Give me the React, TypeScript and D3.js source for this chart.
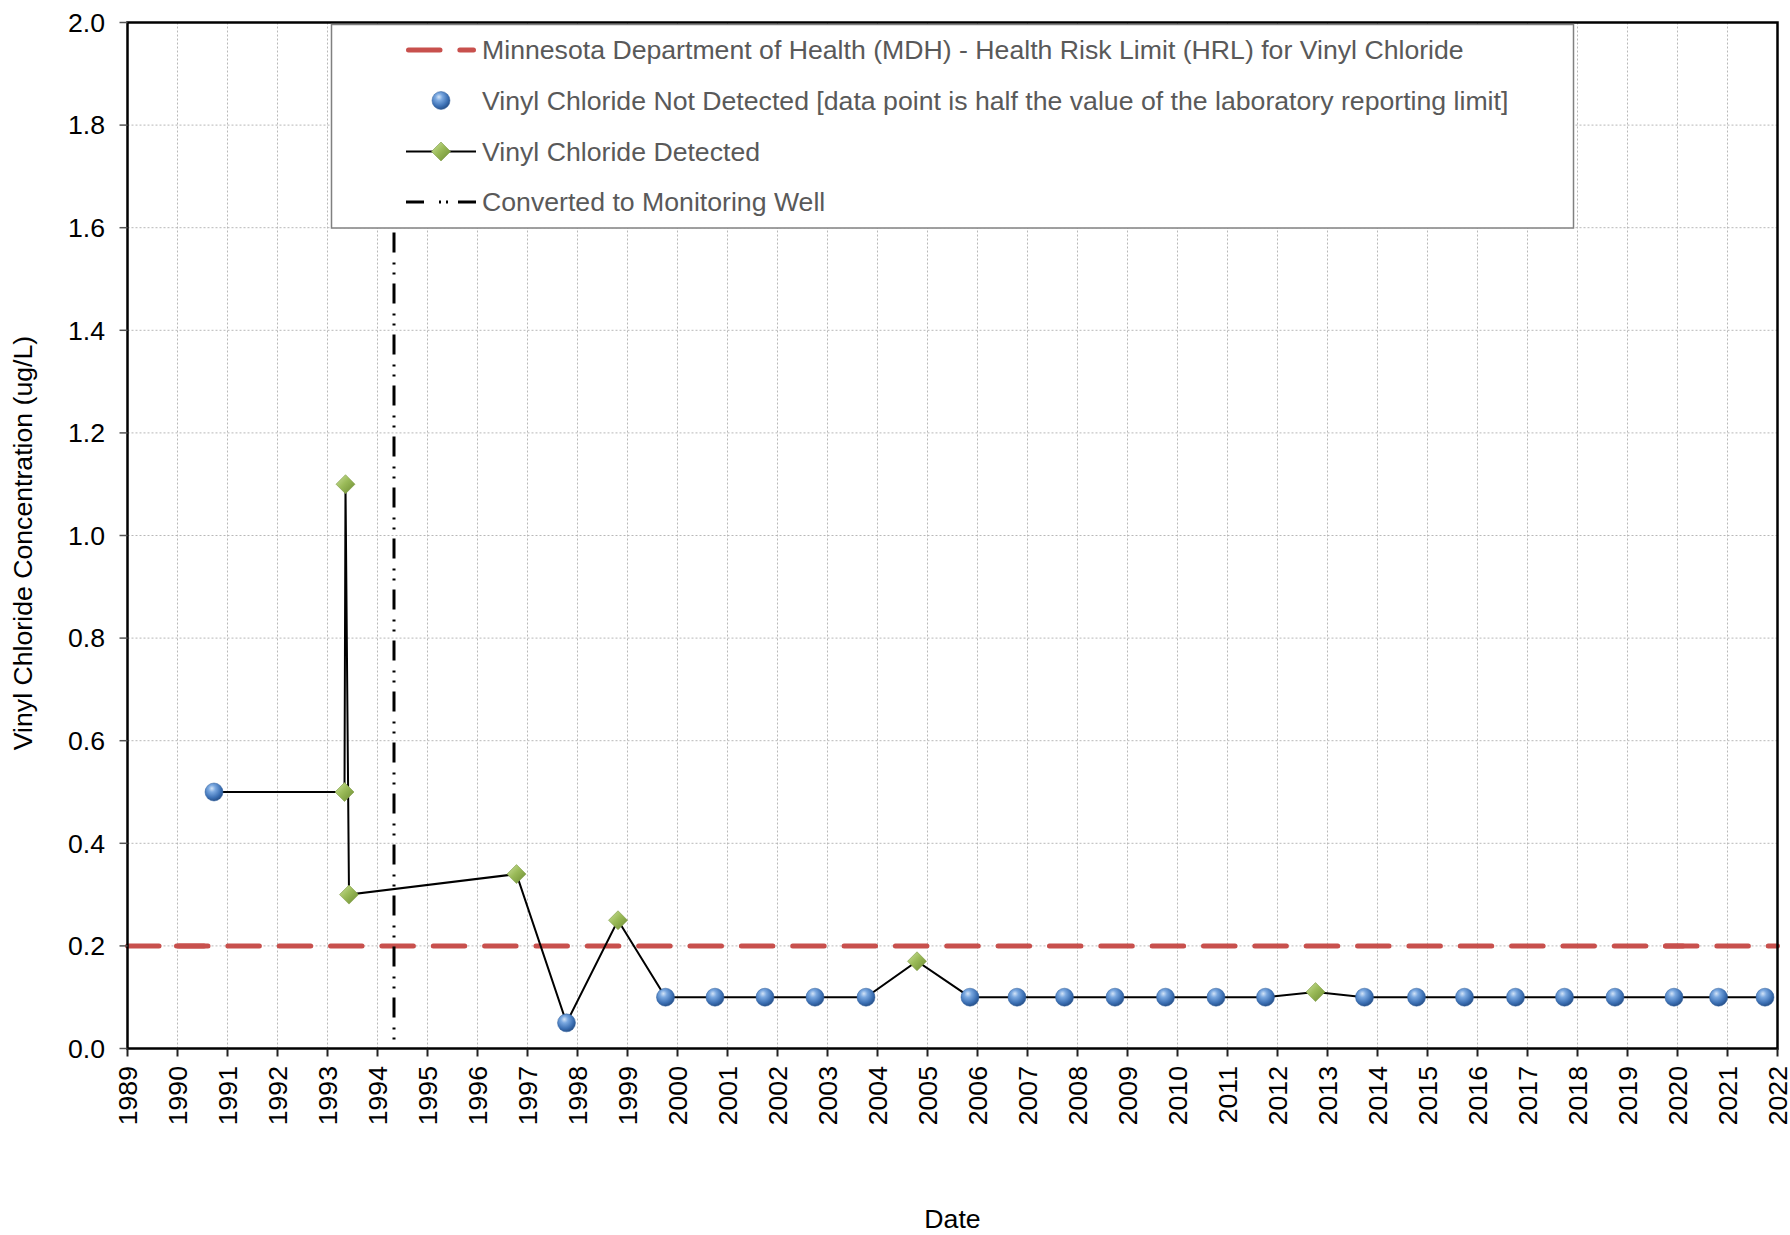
import React from "react";
import * as d3 from "d3";

// ---- Data ----
const sampleYears: number[] = [
  1990.73, 1993.34, 1993.36, 1993.43, 1996.78, 1997.78, 1998.81, 1999.76,
  2000.75, 2001.75, 2002.75, 2003.77, 2004.79, 2005.85, 2006.79, 2007.74,
  2008.75, 2009.76, 2010.77, 2011.76, 2012.76, 2013.74, 2014.78, 2015.74,
  2016.76, 2017.74, 2018.75, 2019.93, 2020.82, 2021.75,
];
const sampleValues: number[] = [
  0.5, 0.5, 1.1, 0.3, 0.34, 0.05, 0.25, 0.1,
  0.1, 0.1, 0.1, 0.1, 0.17, 0.1, 0.1, 0.1,
  0.1, 0.1, 0.1, 0.1, 0.11, 0.1, 0.1, 0.1,
  0.1, 0.1, 0.1, 0.1, 0.1, 0.1,
];
const sampleDetected: boolean[] = [
  false, true, true, true, true, false, true, false,
  false, false, false, false, true, false, false, false,
  false, false, false, false, true, false, false, false,
  false, false, false, false, false, false,
];
const hrlStartYears: number[] = [1989.0, 1989.98, 2019.76];
const hrlEndYears: number[] = [1990.53, 2020.11, 2022.0];
const hrlValues: number[] = [0.2, 0.2, 0.2];
const conversionYear = 1994.33;
const yearTicks: number[] = d3.range(1989, 2023);
const valueTicks: number[] = [0, 0.2, 0.4, 0.6, 0.8, 1.0, 1.2, 1.4, 1.6, 1.8, 2.0];
const legendLabels: string[] = [
  "Minnesota Department of Health (MDH) - Health Risk Limit (HRL) for Vinyl Chloride",
  "Vinyl Chloride Not Detected [data point is half the value of the laboratory reporting limit]",
  "Vinyl Chloride Detected",
  "Converted to Monitoring Well",
];
const yAxisTitle = "Vinyl Chloride Concentration (ug/L)";
const xAxisTitle = "Date";

// ---- Layout ----
const W = 1790;
const H = 1235;
const left = 127.5;
const right = 1777.5;
const top = 22.5;
const bottom = 1048.5;
const FONT = "'Liberation Sans', Arial, Helvetica, sans-serif";
const FS = 26.67;
const BALL_R = 9;
const DIA_R = 9.5;

export default function App() {
  const x = d3.scaleLinear().domain([1989, 2022]).range([left, right]);
  const y = d3.scaleLinear().domain([0, 2]).range([bottom, top]);

  const line = d3
    .line<number>()
    .x((_, i) => x(sampleYears[i]))
    .y((v) => y(v));

  const diamond = (cx: number, cy: number, r: number) =>
    `M${cx},${cy - r}L${cx + r},${cy}L${cx},${cy + r}L${cx - r},${cy}Z`;

  const legX = 331.5;
  const legY = 24.5;
  const legW = 1242;
  const legH = 203.5;
  const rowYs = [50, 100.5, 151.5, 202];
  const symL = 406;
  const symR = 476;
  const symC = 441;
  const textX = 482;

  return (
    <div style={{ position: "absolute", left: 0, top: 0 }}>
      <svg width={W} height={H} style={{ display: "block", background: "#fff" }}>
        <defs>
          <radialGradient id="blueBall" cx="0.4" cy="0.35" r="0.65" fx="0.38" fy="0.3">
            <stop offset="0" stopColor="#d4e4f7" />
            <stop offset="0.3" stopColor="#7aa8e0" />
            <stop offset="0.75" stopColor="#3c70b4" />
            <stop offset="1" stopColor="#28528c" />
          </radialGradient>
          <linearGradient id="greenDia" x1="0" y1="0" x2="1" y2="1">
            <stop offset="0" stopColor="#cfe3a0" />
            <stop offset="0.45" stopColor="#9bbb59" />
            <stop offset="1" stopColor="#6a8a30" />
          </linearGradient>
        </defs>

        {/* gridlines */}
        <g stroke="#b8b8b8" strokeWidth={1} strokeDasharray="2 2">
          {valueTicks.filter((v) => v > 0 && v < 2).map((v) => (
            <line key={"hg" + v} x1={left} x2={right} y1={y(v)} y2={y(v)} />
          ))}
          {yearTicks.filter((t) => t > 1989 && t < 2022).map((t) => (
            <line key={"vg" + t} x1={x(t)} x2={x(t)} y1={top} y2={bottom} />
          ))}
        </g>

        {/* HRL line segments */}
        {hrlStartYears.map((s, i) => (
          <line
            key={"hrl" + i}
            x1={x(s)}
            x2={x(hrlEndYears[i])}
            y1={y(hrlValues[i])}
            y2={y(hrlValues[i])}
            stroke="#c8504d"
            strokeWidth={5}
            strokeLinecap="round"
            strokeDasharray="31.5 19.85"
          />
        ))}

        {/* conversion to monitoring well */}
        <line
          x1={x(conversionYear)}
          x2={x(conversionYear)}
          y1={top}
          y2={bottom}
          stroke="#000"
          strokeWidth={3}
          strokeDasharray="20 10 2 8 2 9"
          strokeDashoffset={-6}
        />

        {/* data line */}
        <path d={line(sampleValues) || ""} fill="none" stroke="#000" strokeWidth={2} />

        {/* markers */}
        {sampleValues.map((v, i) =>
          sampleDetected[i] ? (
            <path
              key={"m" + i}
              d={diamond(x(sampleYears[i]), y(v), DIA_R)}
              fill="url(#greenDia)"
              stroke="#7d9a45"
              strokeWidth={0.6}
            />
          ) : (
            <circle
              key={"m" + i}
              cx={x(sampleYears[i])}
              cy={y(v)}
              r={BALL_R}
              fill="url(#blueBall)"
              stroke="#2f5e9c"
              strokeWidth={0.5}
            />
          )
        )}

        {/* frame */}
        <rect x={left} y={top} width={right - left} height={bottom - top} fill="none" stroke="#000" strokeWidth={2.5} />

        {/* y ticks */}
        {valueTicks.map((v) => (
          <g key={"yt" + v}>
            <line x1={left - 8} x2={left} y1={y(v)} y2={y(v)} stroke="#555" strokeWidth={1.5} />
            <text
              x={105}
              y={y(v)}
              dy="0.35em"
              textAnchor="end"
              fontFamily={FONT}
              fontSize={FS}
              fill="#000"
            >
              {v.toFixed(1)}
            </text>
          </g>
        ))}

        {/* x ticks */}
        {yearTicks.map((t) => (
          <g key={"xt" + t}>
            <line x1={x(t)} x2={x(t)} y1={bottom} y2={bottom + 8} stroke="#222" strokeWidth={2} />
            <text
              transform={`translate(${x(t)},1066) rotate(-90)`}
              dy="0.35em"
              textAnchor="end"
              fontFamily={FONT}
              fontSize={FS}
              fill="#000"
            >
              {t}
            </text>
          </g>
        ))}

        {/* axis titles */}
        <text
          transform={`translate(32,543) rotate(-90)`}
          textAnchor="middle"
          fontFamily={FONT}
          fontSize={26.67}
          fill="#000"
        >
          {yAxisTitle}
        </text>
        <text x={(left + right) / 2} y={1228} textAnchor="middle" fontFamily={FONT} fontSize={FS} fill="#000">
          {xAxisTitle}
        </text>

        {/* legend */}
        <rect x={legX} y={legY} width={legW} height={legH} fill="#fff" stroke="#808080" strokeWidth={1.5} />
        <line
          x1={symL + 2.5}
          x2={symR - 2.5}
          y1={rowYs[0]}
          y2={rowYs[0]}
          stroke="#c8504d"
          strokeWidth={5}
          strokeLinecap="round"
          strokeDasharray="31.5 19.85"
        />
        <circle cx={symC} cy={rowYs[1]} r={BALL_R} fill="url(#blueBall)" stroke="#2f5e9c" strokeWidth={0.5} />
        <line x1={symL} x2={symR} y1={rowYs[2]} y2={rowYs[2]} stroke="#000" strokeWidth={2} />
        <path d={diamond(symC, rowYs[2], DIA_R)} fill="url(#greenDia)" stroke="#7d9a45" strokeWidth={0.6} />
        <line
          x1={symL}
          x2={symR}
          y1={rowYs[3]}
          y2={rowYs[3]}
          stroke="#000"
          strokeWidth={3}
          strokeDasharray="18 15 2 5 2 10 18"
        />
        {legendLabels.map((lab, i) => (
          <text
            key={"lg" + i}
            x={textX}
            y={rowYs[i]}
            dy="0.35em"
            fontFamily={FONT}
            fontSize={FS}
            fill="#595959"
          >
            {lab}
          </text>
        ))}
      </svg>
    </div>
  );
}
